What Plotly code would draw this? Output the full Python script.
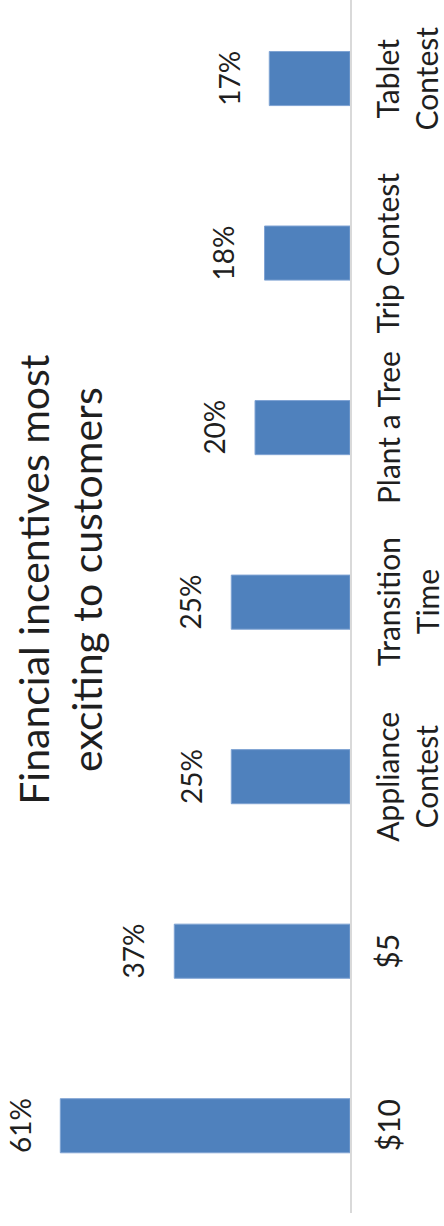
import plotly.graph_objects as go

# Incentive options and share of customers excited by each
categories = ["$10", "$5", "Appliance Contest", "Transition Time",
              "Plant a Tree", "Trip Contest", "Tablet Contest"]
tick_labels = ["$10", "$5", "Appliance<br>Contest", "Transition<br>Time",
               "Plant a Tree", "Trip Contest", "Tablet<br>Contest"]
shares = [61, 37, 25, 25, 20, 18, 17]

title_text = "Financial incentives most<br>exciting to customers"

FONT = "Lato"
TEXT = "#1f1f1f"
BAR = "#4F81BD"

fig = go.Figure()
fig.add_trace(go.Bar(
    x=shares,
    y=categories,
    orientation="h",
    width=0.31,
    marker=dict(color=BAR, line=dict(color="#7FA3D3", width=1)),
    hoverinfo="skip",
))

annotations = []
# value labels just beyond the end of each bar
for cat, v in zip(categories, shares):
    annotations.append(dict(
        x=v, y=cat, xref="x", yref="y",
        text=f"{v}%", showarrow=False, textangle=-90,
        xanchor="right", yanchor="middle", xshift=-22,
        font=dict(family=FONT, size=28, color=TEXT),
    ))
# category names on the far side of the baseline
for cat, lab in zip(categories, tick_labels):
    annotations.append(dict(
        x=1.05, y=cat, xref="paper", yref="y",
        text=lab, showarrow=False, textangle=-90, align="center",
        xanchor="left", yanchor="middle",
        font=dict(family=FONT, size=30, color=TEXT),
    ))
# chart title
annotations.append(dict(
    x=0.02, y=0.522, xref="paper", yref="paper",
    text=title_text, showarrow=False, textangle=-90, align="center",
    xanchor="left", yanchor="middle",
    font=dict(family=FONT, size=41, color=TEXT),
))

fig.update_layout(
    width=444, height=1226,
    margin=dict(l=0, r=94, t=0, b=13, pad=0),
    paper_bgcolor="white", plot_bgcolor="white",
    showlegend=False,
    annotations=annotations,
    xaxis=dict(range=[73.7, 0], visible=False, fixedrange=True),
    yaxis=dict(
        type="category", categoryorder="array", categoryarray=categories,
        range=[-0.5, 6.45], side="right",
        showline=True, linecolor="#D9D9D9", linewidth=2,
        showgrid=False, zeroline=False, ticks="", showticklabels=False,
    ),
)

fig.write_html("out.html")
